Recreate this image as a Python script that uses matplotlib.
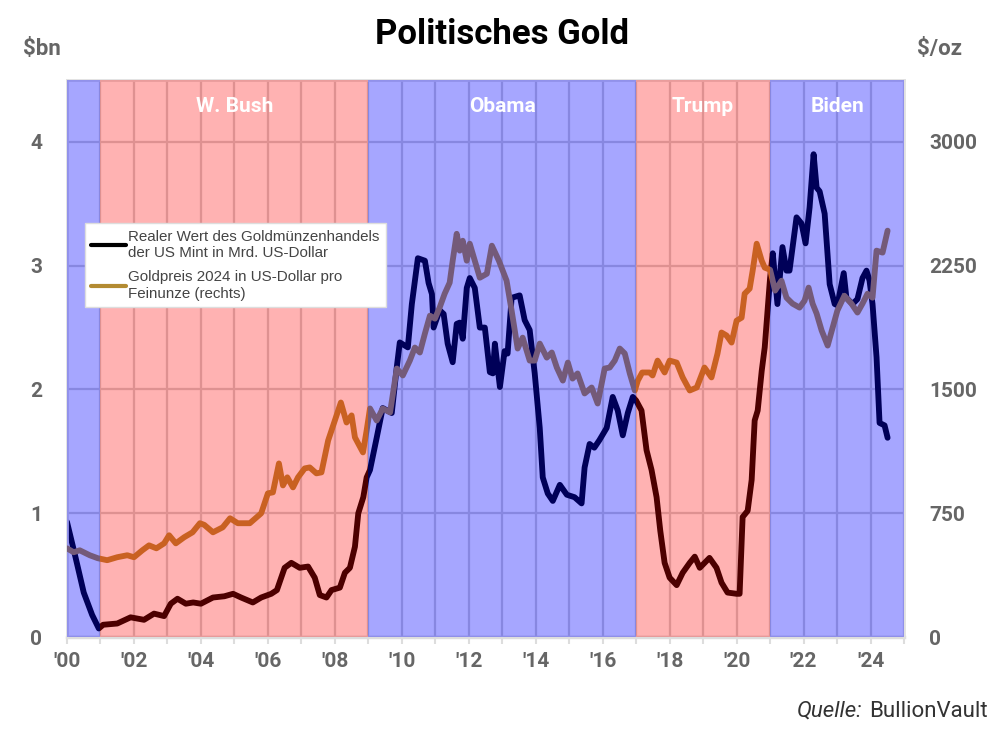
import matplotlib
matplotlib.use("Agg")
import matplotlib.pyplot as plt
from matplotlib import font_manager as fm
from matplotlib.ticker import MultipleLocator, FixedLocator

# ---------------- data ----------------
coin_t = [2000.0, 2000.25, 2000.5, 2000.75, 2000.95, 2001.08, 2001.5, 2001.9, 2002.3, 2002.6,
          2002.9, 2003.1, 2003.3, 2003.55, 2003.77, 2004.0, 2004.36, 2004.7, 2004.96, 2005.2,
          2005.55, 2005.8, 2006.1, 2006.27, 2006.5, 2006.7, 2006.95, 2007.2, 2007.4, 2007.55,
          2007.75, 2007.9, 2008.15, 2008.3, 2008.45, 2008.6, 2008.7, 2008.85, 2008.95, 2009.05,
          2009.25, 2009.43, 2009.7, 2009.85, 2009.94, 2010.18, 2010.3, 2010.48, 2010.69, 2010.8,
          2010.9, 2010.95, 2011.13, 2011.25, 2011.37, 2011.52, 2011.64, 2011.73, 2011.82, 2011.94,
          2012.03, 2012.18, 2012.33, 2012.48, 2012.63, 2012.72, 2012.78, 2012.93, 2013.07, 2013.16,
          2013.28, 2013.52, 2013.67, 2013.82, 2013.97, 2014.12, 2014.21, 2014.36, 2014.51, 2014.72,
          2014.93, 2015.16, 2015.37, 2015.46, 2015.61, 2015.75, 2015.9, 2016.12, 2016.3, 2016.45,
          2016.6, 2016.75, 2016.9, 2017.0, 2017.16, 2017.31, 2017.46, 2017.61, 2017.72, 2017.85,
          2018.0, 2018.21, 2018.39, 2018.6, 2018.75, 2018.9, 2019.19, 2019.4, 2019.55, 2019.73,
          2020.0, 2020.09, 2020.18, 2020.33, 2020.45, 2020.54, 2020.63, 2020.75, 2020.84, 2021.0,
          2021.08, 2021.22, 2021.37, 2021.49, 2021.58, 2021.79, 2021.94, 2022.06, 2022.18, 2022.3,
          2022.39, 2022.48, 2022.63, 2022.78, 2022.93, 2023.01, 2023.2, 2023.28, 2023.46, 2023.61,
          2023.76, 2023.88, 2023.97, 2024.06, 2024.18, 2024.27, 2024.42, 2024.51]
coin_bn = [0.93, 0.65, 0.36, 0.18, 0.07, 0.10, 0.11, 0.16, 0.14, 0.19,
           0.17, 0.27, 0.31, 0.27, 0.28, 0.27, 0.32, 0.33, 0.35, 0.32,
           0.28, 0.32, 0.35, 0.38, 0.56, 0.60, 0.56, 0.57, 0.48, 0.34,
           0.32, 0.38, 0.40, 0.52, 0.56, 0.73, 1.00, 1.13, 1.29, 1.35,
           1.61, 1.85, 1.81, 2.18, 2.38, 2.34, 2.69, 3.06, 3.04, 2.86,
           2.77, 2.50, 2.64, 2.61, 2.37, 2.22, 2.53, 2.54, 2.41, 2.82,
           2.90, 2.82, 2.50, 2.50, 2.14, 2.13, 2.37, 2.02, 2.31, 2.29,
           2.74, 2.76, 2.56, 2.48, 2.13, 1.69, 1.29, 1.16, 1.10, 1.23,
           1.15, 1.13, 1.08, 1.37, 1.56, 1.53, 1.59, 1.69, 1.94, 1.83,
           1.63, 1.81, 1.94, 1.91, 1.83, 1.51, 1.35, 1.13, 0.86, 0.60,
           0.48, 0.42, 0.52, 0.60, 0.65, 0.56, 0.64, 0.56, 0.44, 0.36,
           0.35, 0.35, 0.97, 1.02, 1.27, 1.75, 1.83, 2.15, 2.34, 2.90,
           3.10, 2.69, 3.15, 2.96, 2.96, 3.39, 3.34, 3.18, 3.47, 3.90,
           3.63, 3.60, 3.42, 2.85, 2.69, 2.68, 2.94, 2.74, 2.69, 2.73,
           2.90, 2.96, 2.88, 2.69, 2.26, 1.73, 1.71, 1.61]

gold_t = [2000.0, 2000.2, 2000.38, 2000.68, 2000.92, 2001.2, 2001.5, 2001.8, 2002.0, 2002.25,
          2002.45, 2002.67, 2002.9, 2003.05, 2003.25, 2003.5, 2003.75, 2003.97, 2004.1, 2004.36,
          2004.65, 2004.87, 2005.1, 2005.46, 2005.8, 2006.0, 2006.15, 2006.33, 2006.45, 2006.58,
          2006.75, 2006.9, 2007.1, 2007.25, 2007.45, 2007.6, 2007.8, 2008.0, 2008.18, 2008.35,
          2008.5, 2008.6, 2008.84, 2008.95, 2009.05, 2009.25, 2009.43, 2009.65, 2009.85, 2010.03,
          2010.24, 2010.39, 2010.54, 2010.69, 2010.84, 2010.99, 2011.13, 2011.28, 2011.43, 2011.52,
          2011.64, 2011.73, 2011.82, 2011.94, 2012.03, 2012.18, 2012.33, 2012.54, 2012.69, 2012.9,
          2013.13, 2013.28, 2013.46, 2013.61, 2013.82, 2013.97, 2014.12, 2014.33, 2014.48, 2014.63,
          2014.81, 2014.96, 2015.1, 2015.25, 2015.46, 2015.67, 2015.85, 2016.06, 2016.21, 2016.36,
          2016.51, 2016.66, 2016.81, 2016.96, 2017.05, 2017.18, 2017.4, 2017.49, 2017.64, 2017.85,
          2018.0, 2018.21, 2018.39, 2018.6, 2018.81, 2019.04, 2019.25, 2019.43, 2019.55, 2019.7,
          2019.85, 2020.0, 2020.15, 2020.24, 2020.39, 2020.48, 2020.6, 2020.75, 2020.84, 2021.0,
          2021.15, 2021.34, 2021.49, 2021.67, 2021.88, 2022.03, 2022.15, 2022.27, 2022.39, 2022.54,
          2022.72, 2022.87, 2023.01, 2023.22, 2023.43, 2023.61, 2023.76, 2023.91, 2024.06, 2024.18,
          2024.36, 2024.51]
gold_usd = [538, 514, 526, 496, 478, 466, 484, 496, 484, 526,
            556, 538, 568, 617, 568, 605, 635, 690, 680, 635,
            665, 720, 690, 690, 750, 871, 877, 1052, 919, 968,
            907, 968, 1022, 1028, 992, 998, 1191, 1312, 1421, 1300,
            1343, 1210, 1119, 1252, 1385, 1312, 1385, 1361, 1627, 1585,
            1675, 1754, 1724, 1839, 1947, 1929, 1996, 2080, 2147, 2280,
            2443, 2341, 2401, 2280, 2383, 2280, 2177, 2201, 2371, 2280,
            2159, 1978, 1748, 1814, 1675, 1675, 1778, 1693, 1724, 1633,
            1554, 1663, 1566, 1597, 1476, 1512, 1415, 1627, 1633, 1675,
            1748, 1718, 1597, 1494, 1554, 1603, 1603, 1585, 1675, 1603,
            1675, 1663, 1573, 1494, 1512, 1633, 1573, 1718, 1845, 1827,
            1784, 1917, 1935, 2080, 2111, 2220, 2383, 2280, 2238, 2225,
            2099, 2159, 2056, 2020, 1996, 2038, 2117, 2020, 1960, 1857,
            1766, 1875, 1978, 2068, 2020, 1966, 2020, 2080, 2056, 2341,
            2329, 2462]

terms = ["", "W. Bush", "Obama", "Trump", "Biden"]
term_start = [2000, 2001, 2009, 2017, 2021]
term_end = [2001, 2009, 2017, 2021, 2025]
term_party = ["D", "R", "D", "R", "D"]

year_ticks = list(range(2000, 2025, 2))
year_labels = ["'00", "'02", "'04", "'06", "'08", "'10", "'12", "'14", "'16", "'18", "'20", "'22", "'24"]
left_ticks = [0, 1, 2, 3, 4]
right_ticks = [0, 750, 1500, 2250, 3000]

legend_labels = ["Realer Wert des Goldmünzenhandels\nder US Mint in Mrd. US-Dollar",
                 "Goldpreis 2024 in US-Dollar pro\nFeinunze (rechts)"]

# ---------------- style ----------------
names = {f.name for f in fm.fontManager.ttflist}
cond = "Liberation Sans Narrow" if "Liberation Sans Narrow" in names else "Roboto"
plt.rcParams['font.family'] = ['Liberation Sans', 'DejaVu Sans']

GRAY = "#666666"
party_color = {"D": (0.0, 0.0, 1.0, 0.35), "R": (1.0, 0.0, 0.0, 0.30)}

fig = plt.figure(figsize=(10, 7.4), dpi=100)
ax = fig.add_axes([0.067, 0.139, 0.837, 0.753])
ax2 = ax.twinx()

ax.set_xlim(2000, 2025)
ax.set_ylim(0, 4.5)
ax2.set_ylim(0, 3375)

l1, = ax.plot(coin_t, coin_bn, color="black", lw=4.2, solid_joinstyle="round",
              solid_capstyle="round", zorder=3)
l2, = ax2.plot(gold_t, gold_usd, color="#b38b32", lw=4.2, solid_joinstyle="round",
               solid_capstyle="round", zorder=3)

# presidential spans on top (tint)
for name, s, e, p in zip(terms, term_start, term_end, term_party):
    ax2.axvspan(s, e, color=party_color[p], lw=0, zorder=5)
    if name:
        ax2.text((s + e) / 2, 0.952, name, transform=ax2.get_xaxis_transform(),
                 ha="center", va="center", color="white", fontsize=15, fontweight="bold",
                 family=[cond, 'DejaVu Sans'], zorder=6)

# grid
ax.xaxis.set_major_locator(FixedLocator(year_ticks))
ax.xaxis.set_minor_locator(MultipleLocator(1))
ax.set_xticklabels(year_labels)
ax.set_yticks(left_ticks)
ax2.set_yticks(right_ticks)
ax.grid(True, which="both", axis="x", color="#d0d0d0", lw=1.6, zorder=0)
ax.grid(True, which="major", axis="y", color="#d0d0d0", lw=1.6, zorder=0)
ax.set_axisbelow(True)

for a in (ax, ax2):
    for sp in a.spines.values():
        sp.set_visible(False)
ax.spines["bottom"].set_visible(True)
ax.spines["bottom"].set_color("#dddddd")
ax.spines["bottom"].set_linewidth(2.5)
for side in ("right", "left", "top"):
    ax2.spines[side].set_visible(True)
    ax2.spines[side].set_color("#e0e0e0")
    ax2.spines[side].set_linewidth(2)

ax.tick_params(axis="x", which="both", length=5, color="#dddddd", width=1.5,
               labelsize=15, labelcolor=GRAY, pad=6)
ax.tick_params(axis="y", length=0, labelsize=15, labelcolor=GRAY, pad=18)
ax2.tick_params(axis="y", length=0, labelsize=15, labelcolor=GRAY, pad=18)
for lab in ax.get_xticklabels() + ax.get_yticklabels() + ax2.get_yticklabels():
    lab.set_fontweight("bold")
    lab.set_family([cond, 'DejaVu Sans'])

# legend
leg = ax2.legend([l1, l2], legend_labels, loc="upper left",
                 bbox_to_anchor=(0.085, 1 - 0.302), bbox_transform=fig.transFigure,
                 fontsize=10.9, frameon=True, fancybox=False, framealpha=1,
                 edgecolor="#dddddd", handlelength=2.3, handletextpad=0.15,
                 borderpad=0.4, labelspacing=0.7, borderaxespad=0)
leg.set_zorder(10)
for t in leg.get_texts():
    t.set_color("#444444")
for h in leg.get_lines():
    h.set_linewidth(3)

# titles and annotations
fig.text(0.502, 0.953, "Politisches Gold", ha="center", va="center", fontsize=25,
         fontweight="bold", family=[cond, 'DejaVu Sans'], color="black")
fig.text(0.042, 0.934, "$bn", ha="center", va="center", fontsize=16, fontweight="bold",
         family=[cond, 'DejaVu Sans'], color=GRAY)
fig.text(0.940, 0.934, "$/oz", ha="center", va="center", fontsize=16, fontweight="bold",
         family=[cond, 'DejaVu Sans'], color=GRAY)
fig.text(0.988, 0.039, "BullionVault", ha="right", va="center", fontsize=16,
         family=[cond, 'DejaVu Sans'], color="#333333")
fig.text(0.862, 0.039, "Quelle:", ha="right", va="center", fontsize=16, style="italic",
         family=[cond, 'DejaVu Sans'], color="#333333")

fig.savefig("out.png", dpi=100)
